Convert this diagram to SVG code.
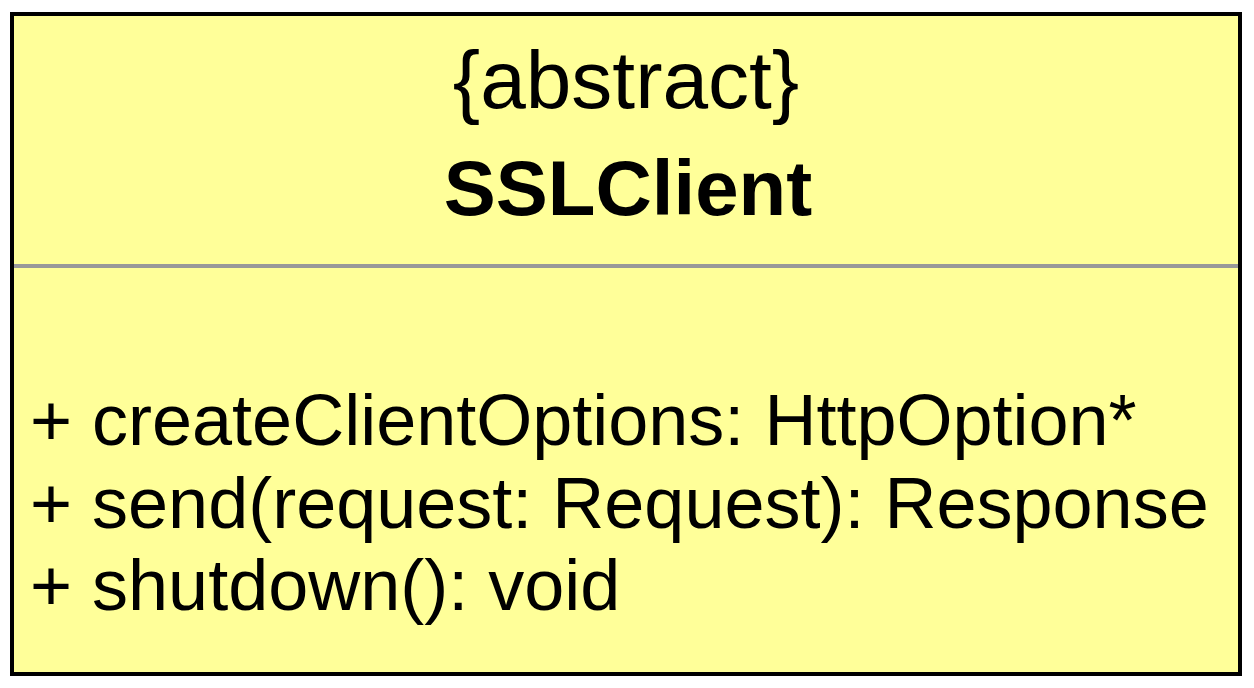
<svg xmlns="http://www.w3.org/2000/svg" width="1254" height="688" viewBox="0 0 1254 688">
<style>
.t{font-family:"Liberation Sans",Arial,sans-serif;fill:#000}
.m{font-size:72px}
</style>
<rect width="1254" height="688" fill="#ffffff"/>
<g id="SSLClient">
<rect x="12" y="14" width="1228" height="660" fill="#FFFF99" stroke="#000" stroke-width="4"/>
<line x1="14" y1="266" x2="1238" y2="266" stroke="#999999" stroke-width="4"/>
<text class="t" x="626" y="108" font-size="82" text-anchor="middle">{abstract}</text>
<text class="t" x="628" y="215" font-size="78" font-weight="bold" text-anchor="middle">SSLClient</text>
<text class="t m" x="30" y="445">+ createClientOptions: HttpOption*</text>
<text class="t m" x="30" y="528">+ send(request: Request): Response</text>
<text class="t m" x="30" y="610">+ shutdown(): void</text>
</g>
<g id="connectors"/>
</svg>
